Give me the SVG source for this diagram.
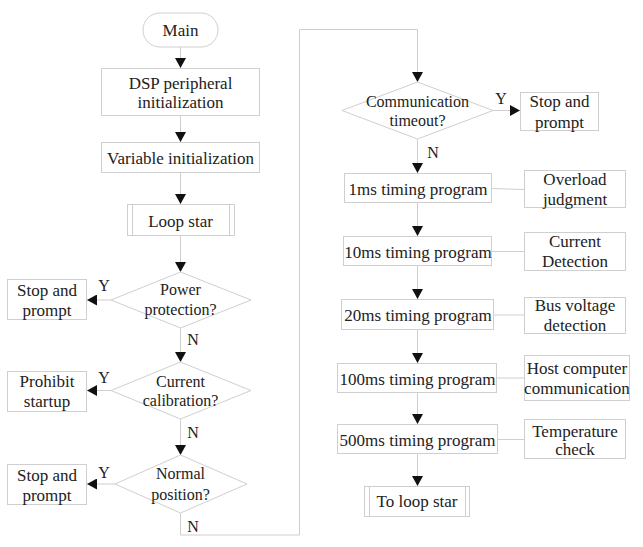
<svg xmlns="http://www.w3.org/2000/svg" width="643" height="547" viewBox="0 0 643 547">
<style>
.b{fill:#fff;stroke:#cfcfcf;stroke-width:1}
.c{fill:none;stroke:#cfcfcf;stroke-width:1}
text{font-family:'Liberation Serif','DejaVu Serif',serif;fill:#222;text-anchor:middle;font-size:17px}
.d{font-size:16px}
</style>
<defs>
<marker id="ah" markerUnits="userSpaceOnUse" markerWidth="10" markerHeight="11" refX="10" refY="5.5" orient="auto">
<path d="M0,0 L10,5.5 L0,11 z" fill="#111"/>
</marker>
</defs>
<rect width="643" height="547" fill="#fff"/>
<g id="connectors">
<line class="c" x1="180.5" y1="47" x2="180.5" y2="68" marker-end="url(#ah)"/>
<line class="c" x1="180.5" y1="116" x2="180.5" y2="142" marker-end="url(#ah)"/>
<line class="c" x1="180.5" y1="173" x2="180.5" y2="204" marker-end="url(#ah)"/>
<line class="c" x1="180.5" y1="236" x2="180.5" y2="272" marker-end="url(#ah)"/>
<line class="c" x1="111" y1="300" x2="87" y2="300" marker-end="url(#ah)"/>
<line class="c" x1="180.5" y1="328" x2="180.5" y2="362" marker-end="url(#ah)"/>
<line class="c" x1="111" y1="390.5" x2="87" y2="390.5" marker-end="url(#ah)"/>
<line class="c" x1="180.5" y1="419" x2="180.5" y2="455" marker-end="url(#ah)"/>
<line class="c" x1="115" y1="484" x2="87" y2="484" marker-end="url(#ah)"/>
<polyline class="c" points="180.5,513 180.5,535 299.5,535 299.5,29.5 417.5,29.5 417.5,82" marker-end="url(#ah)"/>
<line class="c" x1="493" y1="110.5" x2="520" y2="110.5" marker-end="url(#ah)"/>
<line class="c" x1="417.5" y1="139" x2="417.5" y2="173" marker-end="url(#ah)"/>
<line class="c" x1="417.5" y1="203" x2="417.5" y2="236" marker-end="url(#ah)"/>
<line class="c" x1="417.5" y1="266" x2="417.5" y2="299" marker-end="url(#ah)"/>
<line class="c" x1="417.5" y1="330" x2="417.5" y2="363" marker-end="url(#ah)"/>
<line class="c" x1="417.5" y1="393" x2="417.5" y2="424" marker-end="url(#ah)"/>
<line class="c" x1="417.5" y1="454" x2="417.5" y2="486" marker-end="url(#ah)"/>
<line class="c" x1="492" y1="188.5" x2="524" y2="189.5"/>
<line class="c" x1="492" y1="251.5" x2="524" y2="251.5"/>
<line class="c" x1="494" y1="315" x2="524" y2="315"/>
<line class="c" x1="497" y1="378" x2="524" y2="378"/>
<line class="c" x1="498" y1="439.5" x2="524" y2="439.5"/>
<text class="d" x="104" y="291">Y</text>
<text class="d" x="193" y="345">N</text>
<text class="d" x="104" y="383">Y</text>
<text class="d" x="193" y="438">N</text>
<text class="d" x="104" y="478">Y</text>
<text class="d" x="193" y="532">N</text>
<text class="d" x="501" y="104">Y</text>
<text class="d" x="433" y="158">N</text>
</g>
<g id="main">
<rect class="b" x="143" y="13" width="75" height="34" rx="17"/>
<text x="180.5" y="36">Main</text>
</g>
<g id="dsp-init">
<rect class="b" x="101.5" y="68.5" width="158" height="47"/>
<text x="180.5" y="89">DSP peripheral</text>
<text x="180.5" y="108">initialization</text>
</g>
<g id="var-init">
<rect class="b" x="101.5" y="142.5" width="158" height="30"/>
<text x="180.5" y="164">Variable initialization</text>
</g>
<g id="loop-star">
<rect class="b" x="127.5" y="204.5" width="107" height="31"/>
<line class="c" x1="132.5" y1="204.5" x2="132.5" y2="235.5"/>
<line class="c" x1="229.5" y1="204.5" x2="229.5" y2="235.5"/>
<text x="180.5" y="227">Loop star</text>
</g>
<g id="power-protection">
<polygon class="b" points="180.5,272 251,300 180.5,328 111,300"/>
<text class="d" x="180.5" y="295">Power</text>
<text class="d" x="180.5" y="315">protection?</text>
</g>
<g id="stop1">
<rect class="b" x="7.5" y="279.5" width="79" height="40"/>
<text x="47" y="296">Stop and</text>
<text x="47" y="316">prompt</text>
</g>
<g id="current-calibration">
<polygon class="b" points="180.5,362 251,390.5 180.5,419 111,390.5"/>
<text class="d" x="180.5" y="387">Current</text>
<text class="d" x="180.5" y="406">calibration?</text>
</g>
<g id="prohibit">
<rect class="b" x="7.5" y="371.5" width="79" height="40"/>
<text x="47" y="387">Prohibit</text>
<text x="47" y="407">startup</text>
</g>
<g id="normal-position">
<polygon class="b" points="180.5,455 247,484 180.5,513 115,484"/>
<text class="d" x="180.5" y="479">Normal</text>
<text class="d" x="180.5" y="500">position?</text>
</g>
<g id="stop2">
<rect class="b" x="7.5" y="464.5" width="79" height="40"/>
<text x="47" y="481">Stop and</text>
<text x="47" y="501">prompt</text>
</g>
<g id="comm-timeout">
<polygon class="b" points="417.5,82 493,110.5 417.5,139 342,110.5"/>
<text class="d" x="417.5" y="107">Communication</text>
<text class="d" x="417.5" y="126">timeout?</text>
</g>
<g id="stop3">
<rect class="b" x="520.5" y="92.5" width="78" height="38"/>
<text x="559.5" y="107">Stop and</text>
<text x="559.5" y="128">prompt</text>
</g>
<g id="t1ms">
<rect class="b" x="344.5" y="173.5" width="147" height="29"/>
<text x="418" y="195">1ms timing program</text>
</g>
<g id="overload">
<rect class="b" x="524.5" y="170.5" width="101" height="37"/>
<text x="575" y="185">Overload</text>
<text x="575" y="205">judgment</text>
</g>
<g id="t10ms">
<rect class="b" x="343.5" y="236.5" width="148" height="29"/>
<text x="418" y="258">10ms timing program</text>
</g>
<g id="current-detection">
<rect class="b" x="524.5" y="232.5" width="101" height="38"/>
<text x="575" y="247">Current</text>
<text x="575" y="267">Detection</text>
</g>
<g id="t20ms">
<rect class="b" x="341.5" y="299.5" width="152" height="30"/>
<text x="418" y="321">20ms timing program</text>
</g>
<g id="bus-voltage">
<rect class="b" x="524.5" y="297.5" width="101" height="36"/>
<text x="575" y="311">Bus voltage</text>
<text x="575" y="331">detection</text>
</g>
<g id="t100ms">
<rect class="b" x="337.5" y="363.5" width="159" height="29"/>
<text x="417.5" y="385">100ms timing program</text>
</g>
<g id="host-comm">
<rect class="b" x="524.5" y="355.5" width="105" height="45"/>
<text x="577" y="374">Host computer</text>
<text x="577" y="394">communication</text>
</g>
<g id="t500ms">
<rect class="b" x="337.5" y="424.5" width="160" height="29"/>
<text x="417.5" y="446">500ms timing program</text>
</g>
<g id="temperature">
<rect class="b" x="524.5" y="419.5" width="101" height="39"/>
<text x="575" y="437">Temperature</text>
<text x="575" y="455">check</text>
</g>
<g id="to-loop-star">
<rect class="b" x="364.5" y="486.5" width="105" height="30"/>
<line class="c" x1="369.5" y1="486.5" x2="369.5" y2="516.5"/>
<line class="c" x1="465.5" y1="486.5" x2="465.5" y2="516.5"/>
<text x="417" y="507">To loop star</text>
</g>
</svg>
